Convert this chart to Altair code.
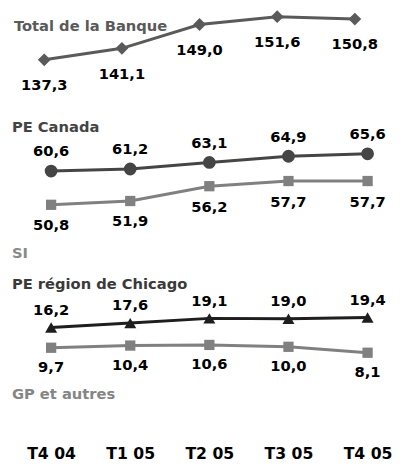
import altair as alt
import pandas as pd

quarters = ["T4 04", "T1 05", "T2 05", "T3 05", "T4 05"]
total = [137.3, 141.1, 149.0, 151.6, 150.8]
pe_canada = [60.6, 61.2, 63.1, 64.9, 65.6]
si = [50.8, 51.9, 56.2, 57.7, 57.7]
pe_chicago = [16.2, 17.6, 19.1, 19.0, 19.4]
gp = [9.7, 10.4, 10.6, 10.0, 8.1]
names = ["Total de la Banque", "PE Canada", "SI", "PE région de Chicago", "GP et autres"]

FONT = "DejaVu Sans"


def frame(values):
    return pd.DataFrame({
        "quarter": quarters,
        "value": values,
        "label": [f"{v:.1f}".replace(".", ",") for v in values],
    })


def series(values, xscale, yscale, color, shape, size, dy, xaxis=None):
    base = alt.Chart(frame(values)).encode(
        x=alt.X("quarter:O", scale=xscale, axis=xaxis, sort=quarters),
        y=alt.Y("value:Q", scale=yscale, axis=None),
    )
    line = base.mark_line(color=color, strokeWidth=3)
    pts = base.mark_point(shape=shape, size=size, filled=True, color=color, opacity=1)
    txt = base.mark_text(dy=dy, font=FONT, fontSize=15, fontWeight="bold",
                         color="black").encode(text="label:N")
    return alt.layer(line, pts, txt)


def name_text(name, x, y, color):
    return alt.Chart(pd.DataFrame({"name": [name]})).mark_text(
        align="left", baseline="middle", font=FONT, fontSize=15,
        fontWeight="bold", color=color,
    ).encode(text="name:N", x=alt.value(x), y=alt.value(y))


x_total = alt.Scale(type="point", domain=quarters, range=[37, 354], padding=0)
x_main = alt.Scale(type="point", domain=quarters, range=[44, 367], padding=0)

y_total = alt.Scale(domain=[137.3, 151.6], range=[48, 4], zero=False, nice=False)
y_canada = alt.Scale(domain=[50.8, 65.6], range=[196, 144], zero=False, nice=False)
y_chicago = alt.Scale(domain=[8.1, 19.4], range=[347, 311], zero=False, nice=False)

x_axis = alt.Axis(title=None, labelAngle=0, domain=False, ticks=False, tickSize=0,
                  labelPadding=12, labelFont=FONT, labelFontSize=16,
                  labelFontWeight="bold", labelColor="black", grid=False)

total_group = alt.layer(
    series(total, x_total, y_total, "#5a5a5a", "diamond", 170, 26),
    name_text(names[0], 6, 14, "#5a5a5a"),
)

canada_group = alt.layer(
    series(pe_canada, x_main, y_canada, "#454545", "circle", 170, -20),
    series(si, x_main, y_canada, "#808080", "square", 110, 21),
    name_text(names[1], 4, 117, "#444444"),
    name_text(names[2], 4, 245, "#8a8a8a"),
)

chicago_group = alt.layer(
    series(pe_chicago, x_main, y_chicago, "#1e1e1e", "triangle-up", 150, -18, x_axis),
    series(gp, x_main, y_chicago, "#808080", "square", 110, 20, x_axis),
    name_text(names[3], 4, 277, "#3a3a3a"),
    name_text(names[4], 4, 389, "#858585"),
)

chart = alt.layer(total_group, canada_group, chicago_group).resolve_scale(
    x="independent", y="independent"
).properties(
    width=396, height=430,
    autosize=alt.AutoSizeParams(type="none"),
    padding={"left": 0, "top": 0, "right": 0, "bottom": 40},
).configure_view(stroke=None)

chart.save("out.html", embed_options={"renderer": "svg", "actions": False})
